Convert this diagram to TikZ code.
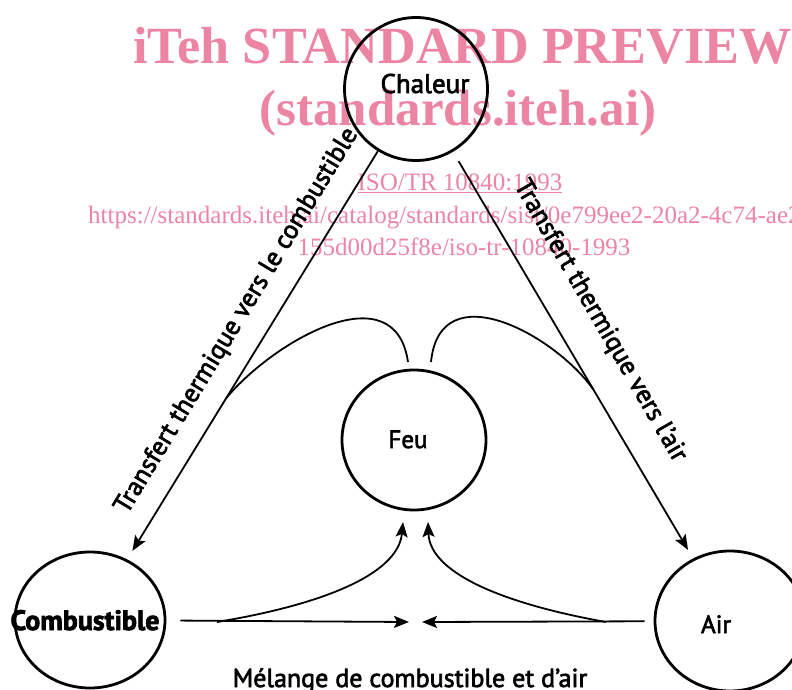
\documentclass[tikz,border=0pt]{standalone}
\usepackage{fontspec}
\setmainfont[FakeBold=2.5]{PT Sans}
\newfontfamily\wmfont{Liberation Serif}
\usetikzlibrary{arrows.meta,shapes.geometric}
\definecolor{wmpink}{RGB}{236,132,164}
\begin{document}
\begin{tikzpicture}[x=1pt,y=-1pt,
  ring/.style={draw, ellipse, line width=2.8pt, inner sep=0pt},
  conn/.style={line width=1.8pt, -{Stealth[length=15pt,width=12pt,inset=3pt]}},
  plain/.style={line width=1.8pt},
  lbl/.style={inner sep=0pt, font=\fontsize{25}{28}\selectfont},
  wm/.style={text=wmpink, inner sep=0pt}
]
\useasboundingbox (0,0) rectangle (792,690);

% watermark
\node[wm, anchor=base west, font=\wmfont\bfseries\fontsize{52.2}{56}\selectfont] (wm1) at (133,64) {iTeh STANDARD PREVIEW};
\node[wm, anchor=base, font=\wmfont\bfseries\fontsize{51}{55}\selectfont] (wm2) at (458,125) {(standards.iteh.ai)};
\node[wm, anchor=base, font=\wmfont\fontsize{25}{28}\selectfont] (wm3) at (460,190) {\underline{ISO/TR 10840:1993}};
\node[wm, anchor=base west, font=\wmfont\fontsize{25}{28}\selectfont] (wm4) at (88,223) {https://standards.iteh.ai/catalog/standards/sist/0e799ee2-20a2-4c74-ae2};
\node[wm, anchor=base, font=\wmfont\fontsize{25}{28}\selectfont] (wm5) at (464,255) {155d00d25f8e/iso-tr-10840-1993};

% circles
\node[ring, minimum width=143pt, minimum height=143pt] (chaleur) at (416,89) {};
\node[ring, minimum width=144pt, minimum height=140pt] (feu) at (414,440) {};
\node[ring, minimum width=150pt, minimum height=136pt] (comb) at (90,620) {};
\node[ring, minimum width=150pt, minimum height=140pt] (air) at (730,621) {};

% texts in circles
\node[lbl, anchor=base, font=\fontsize{27}{30}\selectfont] (chaleurtxt) at (425,93) {Chaleur};
\node[lbl, anchor=base] (feutxt) at (408,448) {Feu};
\node[lbl, anchor=base, font=\bfseries\fontsize{28}{31}\selectfont] (combtxt) at (85,630) {Combustible};
\node[lbl, anchor=base] (airtxt) at (716,633) {Air};

% heat transfer lines
\draw[conn, shorten >=10pt] (chaleur) -- (comb);
\draw[conn, shorten <=11pt, shorten >=10pt] (chaleur) -- (air);
\path (chaleur) -- (comb) coordinate[pos=0.6045] (tl);
\path (chaleur) -- (air) coordinate[pos=0.5846] (tr);

% labels along lines
\node[lbl, rotate=58.8, font=\fontsize{26.2}{29}\selectfont] (lbll) at (237,321) {Transfert thermique vers le combustible};
\node[lbl, rotate=-60, font=\fontsize{26.2}{29}\selectfont] (lblr) at (600,321) {Transfert thermique vers l'air};

% feedback curves from fire
\coordinate (fl) at (408,362);
\coordinate (fr) at (431,362);
\draw[plain] (tl) .. controls (275,340) and (395,272) .. (fl);
\draw[plain] (tr) .. controls (555,335) and (440,272) .. (fr);

% mixing
\coordinate (mixl) at (409,622);
\coordinate (mixr) at (422,622);
\coordinate (jl) at (217,622);
\coordinate (jr) at (606,622);
\coordinate (inl) at (403,522);
\coordinate (inr) at (428,522);
\draw[conn, shorten <=14pt] (comb) -- (mixl);
\draw[conn, shorten <=9pt] (air) -- (mixr);
\draw[conn] (jl) .. controls (320,605) and (398,575) .. (inl);
\draw[conn] (jr) .. controls (510,605) and (430,575) .. (inr);

\node[lbl, anchor=base, font=\fontsize{26}{30}\selectfont] (mel) at (410,687) {Mélange de combustible et d'air};
\end{tikzpicture}
\end{document}
